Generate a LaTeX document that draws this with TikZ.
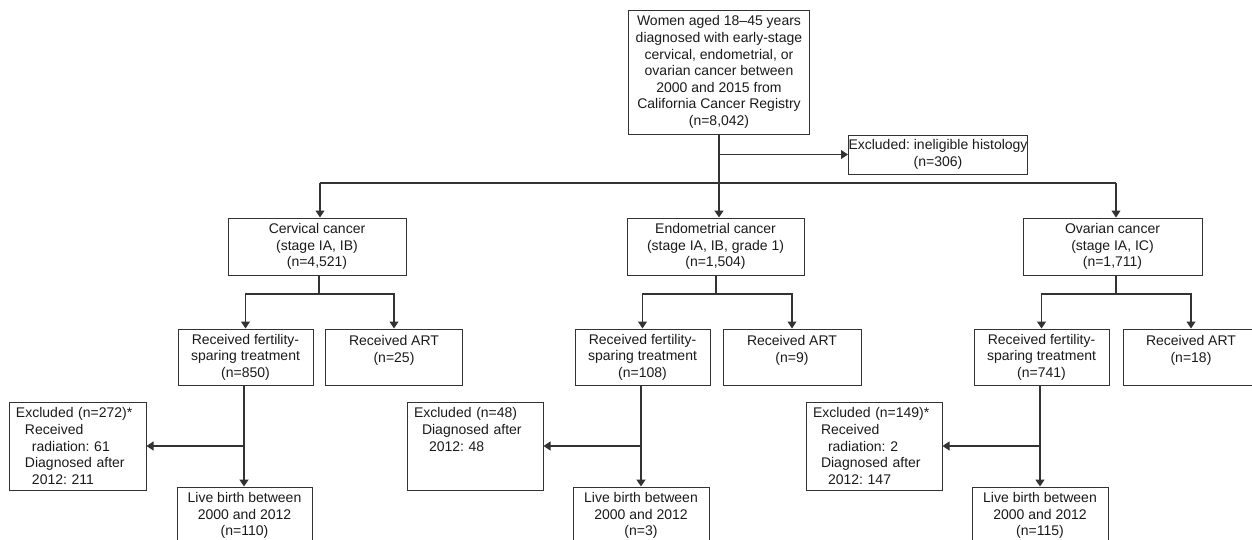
\documentclass[tikz,border=0pt]{standalone}
\usepackage{fontspec}
\setmainfont{Liberation Sans}
\usetikzlibrary{arrows.meta}
\newcommand\fsz{\fontsize{14}{16.6}\selectfont\frenchspacing}
\definecolor{linec}{HTML}{333333}
\definecolor{txtc}{HTML}{1A1A1A}
\begin{document}
\begin{tikzpicture}[x=1pt,y=-1pt,
  box/.style={draw=linec, line width=1pt, rectangle, inner sep=0pt, align=center, font=\fsz, text=txtc},
  exbox/.style={box, align=left, inner xsep=7pt, inner ysep=0pt, minimum height=88pt},
  conn/.style={draw=linec, line width=1.1pt},
  arr/.style={conn, -{Triangle[width=9pt,length=7pt]}},
  heavy/.style={line width=1.6pt}]
\useasboundingbox (0,0) rectangle (1252,539);
\clip (0,0) rectangle (1252,539);

% top
\node[box, minimum width=181pt, minimum height=124pt] (top) at (719,72)
  {Women aged 18--45 years\\diagnosed with early-stage\\cervical, endometrial, or\\ovarian cancer between\\2000 and 2015 from\\California Cancer Registry\\(n=8,042)};
\node[box, minimum width=176pt, minimum height=39pt] (excl) at (938,154.5)
  {Excluded: ineligible histology\\(n=306)};

% cancers
\node[box, minimum width=178pt, minimum height=57pt] (cerv) at (317,246.5)
  {Cervical cancer\\(stage IA, IB)\\(n=4,521)};
\node[box, minimum width=177pt, minimum height=57pt] (endo) at (715.5,246.5)
  {Endometrial cancer\\(stage IA, IB, grade 1)\\(n=1,504)};
\node[box, minimum width=179pt, minimum height=57pt] (ovar) at (1112.5,246.5)
  {Ovarian cancer\\(stage IA, IC)\\(n=1,711)};

% treatments
\node[box, minimum width=135pt, minimum height=56pt] (cfert) at (245.5,357)
  {Received fertility-\\sparing treatment\\(n=850)};
\node[box, minimum width=137pt, minimum height=56pt] (cart) at (394,357)
  {Received ART\\(n=25)\\\mbox{}};
\node[box, minimum width=135pt, minimum height=56pt] (efert) at (642.5,357)
  {Received fertility-\\sparing treatment\\(n=108)};
\node[box, minimum width=138pt, minimum height=56pt] (eart) at (792,357)
  {Received ART\\(n=9)\\\mbox{}};
\node[box, minimum width=135pt, minimum height=56pt] (ofert) at (1041.5,357)
  {Received fertility-\\sparing treatment\\(n=741)};
\node[box, minimum width=136pt, minimum height=56pt] (oart) at (1191,357)
  {Received ART\\(n=18)\\\mbox{}};

% exclusions
\node[exbox, text width=123pt] (cex) at (77.5,446)
  {Excluded (n=272)*\\\hspace*{9pt}Received\\\hspace*{16pt}radiation: 61\\\hspace*{9pt}Diagnosed after\\\hspace*{16pt}2012: 211};
\node[exbox, text width=122pt] (eex) at (475,446)
  {Excluded (n=48)\\\hspace*{8pt}Diagnosed after\\\hspace*{15pt}2012: 48\\\mbox{}\\\mbox{}};
\node[exbox, text width=122pt] (oex) at (874,446)
  {Excluded (n=149)*\\\hspace*{8pt}Received\\\hspace*{15pt}radiation: 2\\\hspace*{8pt}Diagnosed after\\\hspace*{15pt}2012: 147};

% live births
\node[box, minimum width=135pt, minimum height=57pt] (clive) at (244.5,515.5)
  {Live birth between\\2000 and 2012\\(n=110)};
\node[box, minimum width=136pt, minimum height=57pt] (elive) at (641,515.5)
  {Live birth between\\2000 and 2012\\(n=3)};
\node[box, minimum width=136pt, minimum height=57pt] (olive) at (1040,515.5)
  {Live birth between\\2000 and 2012\\(n=115)};

% top connectors
\coordinate (split) at (top.south |- 0,183);
\coordinate (hl) at (320,183);
\coordinate (hr) at (1116,183);
\draw[conn] (top.south) -- (split);
\draw[arr] (top.south |- excl.west) -- (excl.west);
\draw[conn] (hl) -- (hr);
\draw[arr, heavy] (split) -- (split |- endo.north);
\draw[arr] (hl) -- (hl |- cerv.north);
\draw[arr] (hr) -- (hr |- ovar.north);

% cancer -> treatments
\coordinate (cb) at (319,294);
\coordinate (eb) at (716,294);
\coordinate (ob) at (1116,294);
\draw[conn] (cb |- cerv.south) -- (cb);
\draw[arr] (cb) -| (cfert.north);
\draw[arr] (cb) -| (cart.north);
\draw[conn] (eb |- endo.south) -- (eb);
\draw[arr] (eb) -| (efert.north);
\draw[arr] (eb) -| (eart.north);
\draw[conn] (ob |- ovar.south) -- (ob);
\draw[arr] (ob) -| (ofert.north);
\draw[arr] (ob) -| (oart.north);

% fertility -> exclusion / live birth
\coordinate (cj) at (244,446);
\coordinate (ej) at (641,446);
\coordinate (oj) at (1040,446);
\draw[conn] (cj |- cfert.south) -- (cj);
\draw[arr] (cj) -- (cex.east);
\draw[arr, heavy] (cj) -- (cj |- clive.north);
\draw[conn] (ej |- efert.south) -- (ej);
\draw[arr] (ej) -- (eex.east);
\draw[arr, heavy] (ej) -- (ej |- elive.north);
\draw[conn] (oj |- ofert.south) -- (oj);
\draw[arr] (oj) -- (oex.east);
\draw[arr, heavy] (oj) -- (oj |- olive.north);
\end{tikzpicture}
\end{document}
